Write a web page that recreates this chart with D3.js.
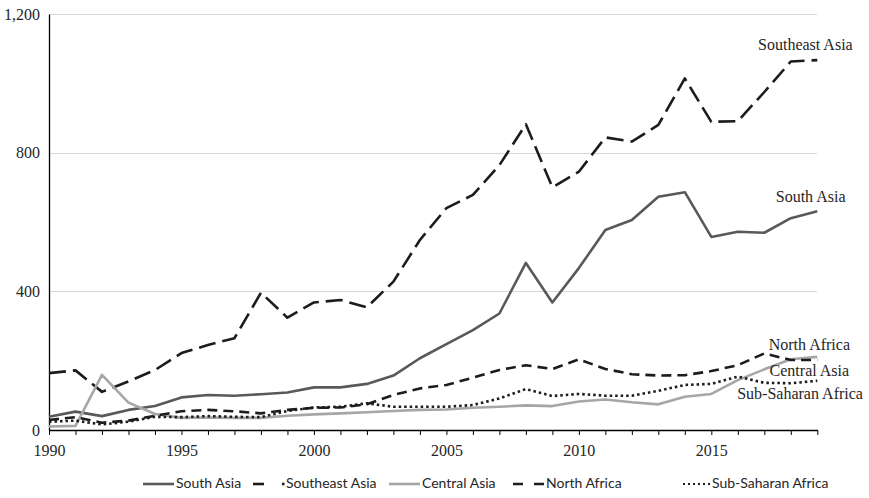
<!DOCTYPE html>
<html>
<head>
<meta charset="utf-8">
<script src="https://cdn.jsdelivr.net/npm/d3@7"></script>
<style>
  html, body { margin: 0; padding: 0; background: #fff; }
  svg { display: block; }
  .serif { font-family: "Liberation Serif", "DejaVu Serif", serif; font-size: 16px; fill: #262626; }
  .legend-text { font-family: Lato, "Open Sans", sans-serif; font-size: 14px; fill: #262626; }
</style>
</head>
<body>
<svg id="chart" width="869" height="498"></svg>
<script>
// Annual values per region, 1990–2019
const years = d3.range(1990, 2020);

const southAsia = [38, 53, 40, 58, 69, 94, 101, 99, 103, 108, 123, 123, 133, 157, 207, 248, 288, 336, 482, 368,
  467, 577, 606, 673, 686, 557, 572, 569, 611, 631];
const southeastAsia = [164, 172, 110, 140, 173, 222, 245, 265, 396, 324, 368, 375, 354, 428, 548, 640, 678, 764, 882, 700,
  745, 844, 832, 880, 1014, 889, 891, 975, 1063, 1067];
const centralAsia = [10, 12, 159, 79, 46, 35, 36, 35, 35, 41, 45, 48, 51, 55, 58, 59, 64, 67, 71, 69,
  82, 88, 80, 74, 96, 104, 144, 175, 204, 211];
const northAfrica = [29, 37, 21, 27, 41, 54, 58, 54, 48, 58, 64, 65, 74, 101, 120, 130, 151, 173, 187, 176,
  204, 176, 161, 157, 158, 170, 187, 221, 202, 202];
const subSaharanAfrica = [24, 27, 16, 24, 38, 37, 40, 38, 37, 55, 65, 67, 77, 67, 67, 67, 72, 91, 118, 98,
  104, 99, 99, 113, 130, 133, 154, 136, 135, 142];

const seriesNames = ["South Asia", "Southeast Asia", "Central Asia", "North Africa", "Sub-Saharan Africa"];
const seriesValues = [southAsia, southeastAsia, centralAsia, northAfrica, subSaharanAfrica];

const yTickValues = [0, 400, 800, 1200];
const xTickLabels = [1990, 1995, 2000, 2005, 2010, 2015];

// Where each end-of-line label sits, in data units (year, value)
const labelYears = [2018.75, 2018.55, 2018.7, 2018.7, 2018.35];
const labelValues = [658, 1096, 156, 231, 89];

// Stroke styling per series
const styles = [
  { color: "#595959", dash: null },
  { color: "#1c1c1c", dash: "17,7" },
  { color: "#a6a6a6", dash: null },
  { color: "#1c1c1c", dash: "10,6" },
  { color: "#1c1c1c", dash: "2.5,3" }
];

const svg = d3.select("#chart");
const margin = { left: 49, right: 52, top: 14, bottom: 68 };
const W = 869, H = 498;

const x = d3.scaleLinear().domain([1990, 2019]).range([margin.left, W - margin.right + 0.3]);
const y = d3.scaleLinear().domain([0, 1200]).range([H - margin.bottom, margin.top]);

// Horizontal gridlines
svg.append("g")
  .selectAll("line")
  .data(yTickValues.filter(v => v > 0))
  .join("line")
  .attr("x1", x(1990)).attr("x2", x(2019))
  .attr("y1", d => Math.round(y(d)) + 0.5).attr("y2", d => Math.round(y(d)) + 0.5)
  .attr("stroke", "#d9d9d9").attr("stroke-width", 1);

// Y axis
const yAxis = svg.append("g")
  .attr("transform", `translate(${x(1990)},0)`)
  .call(d3.axisLeft(y).tickValues(yTickValues).tickSize(0).tickPadding(9).tickFormat(d3.format(",")));
yAxis.attr("font-family", null).attr("font-size", null);
yAxis.select(".domain").attr("stroke", "#000").attr("stroke-width", 1.3);
yAxis.selectAll("text").attr("class", "serif").attr("fill", null);

// X axis with a tick every year, labels every five years
const xAxis = svg.append("g")
  .attr("transform", `translate(0,${y(0)})`)
  .call(d3.axisBottom(x).tickValues(years).tickSize(5).tickSizeOuter(0).tickPadding(10)
    .tickFormat(d => xTickLabels.includes(d) ? String(d) : ""));
xAxis.attr("font-family", null).attr("font-size", null);
xAxis.select(".domain").attr("stroke", "#000").attr("stroke-width", 1.3);
xAxis.selectAll(".tick line").attr("stroke", "#000").attr("stroke-width", 1);
xAxis.selectAll("text").attr("class", "serif").attr("fill", null);

// Series lines
const line = d3.line()
  .x((d, i) => x(years[i]))
  .y(d => y(d));

svg.append("g")
  .selectAll("path")
  .data(seriesValues)
  .join("path")
  .attr("d", d => line(d))
  .attr("fill", "none")
  .attr("stroke", (d, i) => styles[i].color)
  .attr("stroke-width", 2.6)
  .attr("stroke-linejoin", "round")
  .attr("stroke-dasharray", (d, i) => styles[i].dash);

// End-of-line labels
svg.append("g")
  .selectAll("text")
  .data(seriesNames)
  .join("text")
  .attr("class", "serif")
  .attr("x", (d, i) => x(labelYears[i]))
  .attr("y", (d, i) => y(labelValues[i]))
  .attr("text-anchor", "middle")
  .text(d => d);

// Legend
const legend = svg.append("g").attr("transform", "translate(0,488)");
const legendStarts = [143, 253, 389, 513, 683];
seriesNames.forEach((name, i) => {
  const g = legend.append("g").attr("transform", `translate(${legendStarts[i]},0)`);
  const sym = g.append("g").attr("transform", "translate(0,-4)");
  if (i === 1) {
    sym.append("line").attr("x1", 0).attr("x2", 11).attr("stroke", styles[i].color).attr("stroke-width", 2.6);
    sym.append("line").attr("x1", 29).attr("x2", 31.5).attr("stroke", styles[i].color).attr("stroke-width", 2.6);
  } else if (i === 3) {
    sym.append("line").attr("x1", 0).attr("x2", 32).attr("stroke", styles[i].color)
      .attr("stroke-width", 2.6).attr("stroke-dasharray", "10,11");
  } else if (i === 4) {
    sym.append("line").attr("x1", 0).attr("x2", 27).attr("stroke", styles[i].color)
      .attr("stroke-width", 2.2).attr("stroke-dasharray", "2,3");
  } else {
    sym.append("line").attr("x1", 0).attr("x2", 31).attr("stroke", styles[i].color).attr("stroke-width", 2.6);
  }
  g.append("text")
    .attr("class", "legend-text")
    .attr("x", i === 4 ? 29 : 33)
    .attr("y", 0)
    .text(name);
});
</script>
</body>
</html>
